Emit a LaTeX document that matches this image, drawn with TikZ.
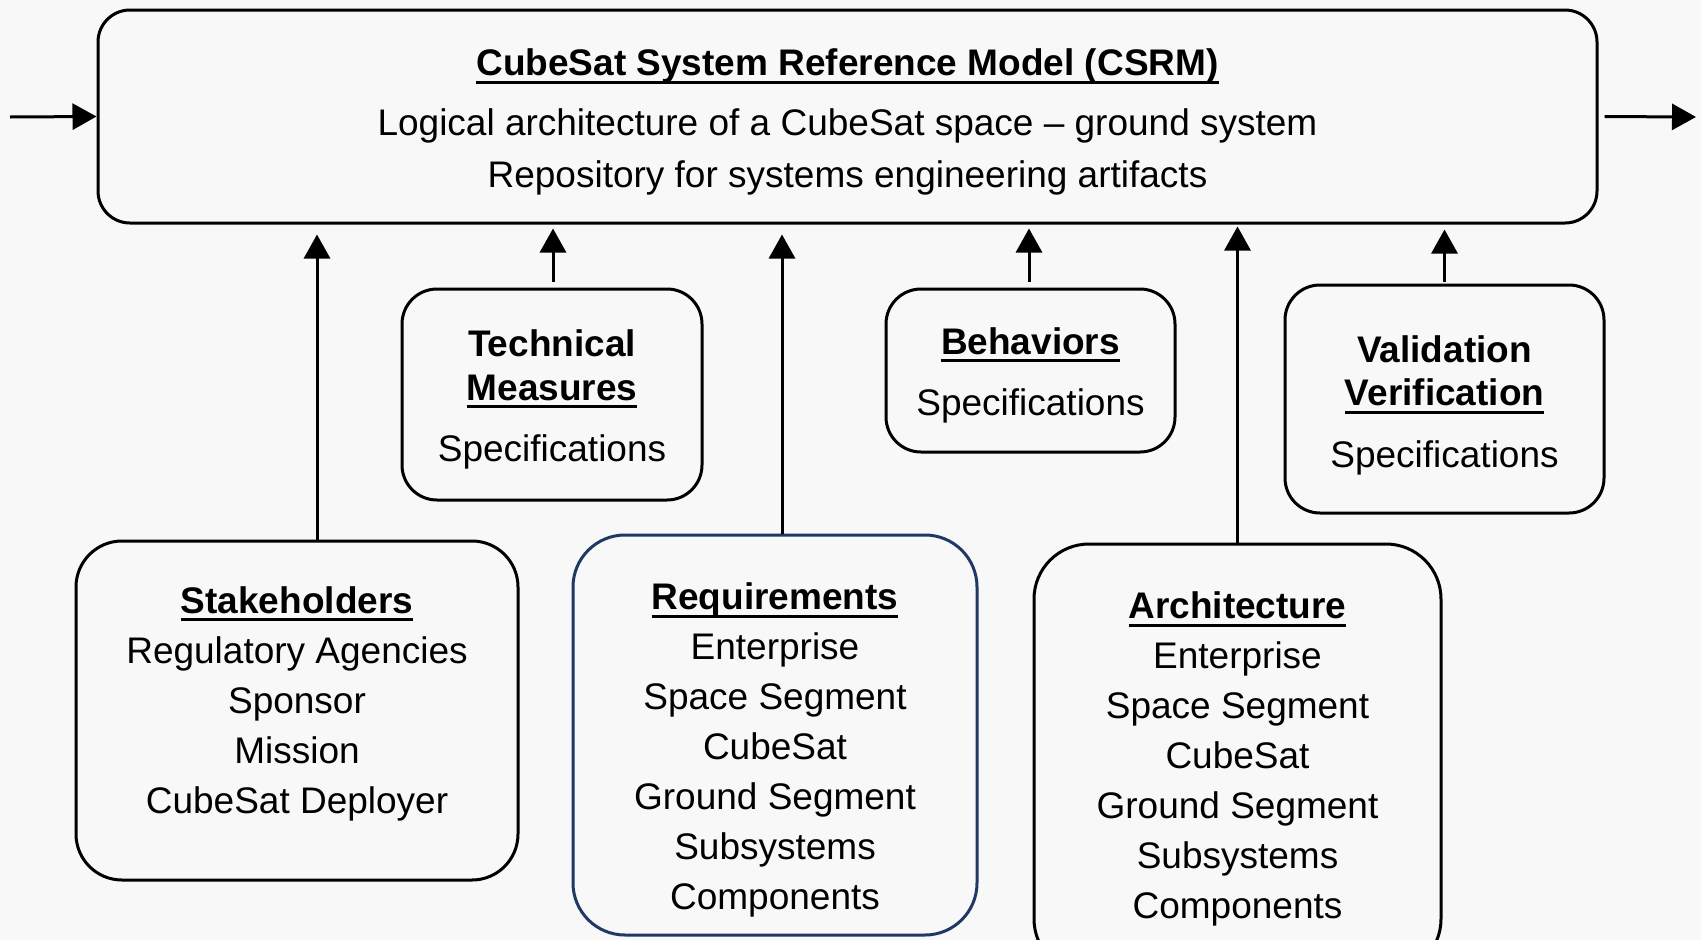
\documentclass[tikz,border=0pt]{standalone}
\usepackage{fontspec}
\setmainfont{Liberation Sans}
\usetikzlibrary{positioning}
\usetikzlibrary{arrows.meta}
\definecolor{bggray}{HTML}{F8F8F8}
\definecolor{reqblue}{HTML}{1F3864}
\newcommand{\ulhead}[1]{\setbox0\hbox{\bfseries #1}\rlap{\rule[-8pt]{\wd0}{3pt}}\box0}

\begin{document}
\begin{tikzpicture}[x=1pt,y=-1pt,
  font=\fontsize{37pt}{50pt}\selectfont,
  box/.style={draw,line width=3pt,fill=bggray,align=center,inner sep=0pt},
  arr/.style={-{Triangle[width=26pt,length=24pt]},line width=3pt}]

\useasboundingbox (0,0) rectangle (1701,940);
\fill[bggray] (0,0) rectangle (1701,940);
\clip (0,0) rectangle (1701,940);

% reference model
\node[box,rounded corners=32pt,minimum width=1499pt,minimum height=213pt] (top) at (847.5,116.5)
  {\rule{0pt}{38pt}\ulhead{CubeSat System Reference Model (CSRM)}\\[10pt]
   Logical architecture of a CubeSat space – ground system\\[2pt]
   Repository for systems engineering artifacts};

% specifications
\node[box,rounded corners=35pt,minimum width=300pt,minimum height=211pt] (tech) at (552,394.5)
  {\rule{0pt}{36pt}\textbf{Technical}\\[-6pt]\ulhead{Measures}\\[11pt]Specifications};
\node[box,rounded corners=35pt,minimum width=289pt,minimum height=163pt] (beh) at (1030.5,370.5)
  {\rule{0pt}{36pt}\ulhead{Behaviors}\\[11pt]Specifications};
\node[box,rounded corners=35pt,minimum width=319pt,minimum height=228pt] (val) at (1444.5,399)
  {\rule{0pt}{40pt}\textbf{Validation}\\[-7pt]\ulhead{Verification}\\[12pt]Specifications};

% lower row
\node[box,rounded corners=46pt,minimum width=442pt,minimum height=339pt] (stake) at (297,710.5)
  {\ulhead{Stakeholders}\\Regulatory Agencies\\Sponsor\\Mission\\CubeSat Deployer\rule[-21pt]{0pt}{0pt}};
\node[box,draw=reqblue,rounded corners=52pt,minimum width=404pt,minimum height=400pt] (req) at (775,735)
  {\rule{0pt}{57pt}\ulhead{Requirements}\\Enterprise\\Space Segment\\CubeSat\\Ground Segment\\Subsystems\\Components};
\node[box,rounded corners=55pt,minimum width=407pt,minimum height=430pt] (arch) at (1237.5,759)
  {\ulhead{Architecture}\\Enterprise\\Space Segment\\CubeSat\\Ground Segment\\Subsystems\\Components};

% inputs
\foreach \n/\dx/\gap/\tip in {stake/20/0/10, tech/1/6/4, req/7/0/10, beh/-1.5/6/4, arch/0/0/2, val/0/2/5}
  \draw[arr,shorten <=\gap pt,shorten >=\tip pt] ([xshift=\dx pt]\n.north) -- ([xshift=\dx pt]\n.north |- top.south);

\coordinate (src) at (10,117);
\coordinate (dst) at (1696,117);
\draw[arr] (src) -- (top.west);
\draw[arr,shorten <=6pt] (top.east) -- (dst);
\end{tikzpicture}
\end{document}
